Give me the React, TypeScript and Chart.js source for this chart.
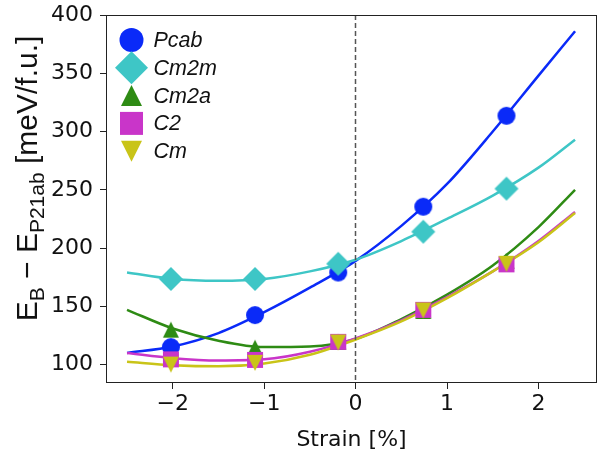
import React, { useEffect, useRef } from 'react';
import { Chart, registerables } from 'chart.js';

Chart.register(...registerables);

// ---- data ----
const seriesNames = ['Pcab', 'Cm2m', 'Cm2a', 'C2', 'Cm'];
const strain = [-2.02, -1.1, -0.19, 0.74, 1.65];
const pcab = [115, 142.5, 179, 235.5, 313.5];
const cm2m = [173.5, 173.5, 186.5, 214, 251];
const cm2a = [130, 114.5, 119.5, 146, 189];
const c2 = [104.5, 104, 119.5, 147, 186];
const cm = [100, 101.5, 119, 146.5, 186.5];

// fitted curves
const fitStrain = [-2.5, -2.0, -1.5, -1.0, -0.5, 0, 0.5, 1.0, 1.5, 2.0, 2.4];
const pcabFit = [110, 115.5, 127, 145, 166, 189, 219, 255, 300, 348, 386];
const cm2mFit = [179, 173.5, 172, 173.5, 180, 190, 206, 225, 245, 269, 293];
const cm2aFit = [147, 131, 120.5, 115, 115.5, 122, 139, 160, 185, 218, 250];
const c2Fit = [110, 105.5, 103.5, 104.5, 111, 122.5, 138, 158, 180, 206, 231];
const cmFit = [102.5, 99.5, 98.5, 101, 108.5, 121.5, 137, 157, 180, 205, 230];

const xTicks = [-2, -1, 0, 1, 2];
const yTicks = [100, 150, 200, 250, 300, 350, 400];
const refStrain = 0;

const colors = ['#0a2af8', '#3ec6c6', '#2e8b14', '#c935c9', '#c9c418'];
const shapes = ['circle', 'diamond', 'triUp', 'square', 'triDown'];
const markerSize = [9, 12, 8, 8, 8];
const legendSize = [12, 16.5, 10.5, 11.5, 10.5];

function drawShape(ctx: CanvasRenderingContext2D, shape: string, cx: number, cy: number, s: number, color: string) {
  ctx.fillStyle = color;
  ctx.beginPath();
  switch (shape) {
    case 'circle':
      ctx.arc(cx, cy, s, 0, Math.PI * 2);
      break;
    case 'diamond':
      ctx.moveTo(cx, cy - s);
      ctx.lineTo(cx + s, cy);
      ctx.lineTo(cx, cy + s);
      ctx.lineTo(cx - s, cy);
      break;
    case 'triUp':
      ctx.moveTo(cx, cy - s);
      ctx.lineTo(cx + s, cy + s);
      ctx.lineTo(cx - s, cy + s);
      break;
    case 'triDown':
      ctx.moveTo(cx, cy + s);
      ctx.lineTo(cx + s, cy - s);
      ctx.lineTo(cx - s, cy - s);
      break;
    case 'square':
      ctx.rect(cx - s, cy - s, 2 * s, 2 * s);
      break;
  }
  ctx.closePath();
  ctx.fill();
}

function makeMarker(shape: string, s: number, color: string): HTMLCanvasElement {
  const c = document.createElement('canvas');
  const size = Math.ceil(2 * s + 2);
  c.width = size;
  c.height = size;
  const ctx = c.getContext('2d')!;
  drawShape(ctx, shape, size / 2, size / 2, s, color);
  return c;
}

const decorPlugin = {
  id: 'decor',
  afterDatasetsDraw(chart: any) {
    const { ctx, chartArea: a, scales } = chart;
    const x = scales.x;
    ctx.save();
    // dashed zero-strain line
    const px = Math.round(x.getPixelForValue(refStrain)) - 0.5;
    ctx.strokeStyle = '#555';
    ctx.lineWidth = 1.5;
    ctx.setLineDash([5, 3]);
    ctx.beginPath();
    ctx.moveTo(px, a.top);
    ctx.lineTo(px, a.bottom);
    ctx.stroke();
    ctx.setLineDash([]);
    // frame
    ctx.strokeStyle = '#222';
    ctx.lineWidth = 1;
    ctx.strokeRect(a.left + 0.5, a.top + 0.5, a.right - a.left - 1, a.bottom - a.top - 1);
    // legend
    const lx = a.left + 25.5;
    const tx = a.left + 47.5;
    ctx.font = 'italic 21.5px "Liberation Sans", Arial, sans-serif';
    ctx.textBaseline = 'middle';
    ctx.textAlign = 'left';
    seriesNames.forEach((name, i) => {
      const ly = a.top + 25 + i * 27.8;
      drawShape(ctx, shapes[i], lx, ly, legendSize[i], colors[i]);
      ctx.fillStyle = '#111';
      ctx.fillText(name, tx, ly + 1);
    });
    ctx.restore();
  },
  afterDraw(chart: any) {
    const { ctx } = chart;
    const parts = [
      { t: 'E', sub: false },
      { t: 'B', sub: true },
      { t: ' \u2212 ', sub: false },
      { t: 'E', sub: false },
      { t: 'P21ab', sub: true },
      { t: ' [meV/f.u.]', sub: false },
    ];
    const mainFont = '30px "Liberation Sans", Arial, sans-serif';
    const subFont = '21px "Liberation Sans", Arial, sans-serif';
    ctx.save();
    let total = 0;
    const widths = parts.map((p) => {
      ctx.font = p.sub ? subFont : mainFont;
      const w = ctx.measureText(p.t).width;
      total += w;
      return w;
    });
    const baseX = 36.5;
    const centerY = 178.5;
    ctx.translate(baseX, centerY + total / 2);
    ctx.rotate(-Math.PI / 2);
    ctx.fillStyle = '#111';
    ctx.textBaseline = 'alphabetic';
    ctx.textAlign = 'left';
    let cx = 0;
    parts.forEach((p, i) => {
      ctx.font = p.sub ? subFont : mainFont;
      ctx.fillText(p.t, cx, p.sub ? 7 : 0);
      cx += widths[i];
    });
    ctx.restore();
  },
};

export default function App() {
  const ref = useRef<HTMLCanvasElement | null>(null);

  useEffect(() => {
    if (!ref.current) return;
    const values = [pcab, cm2m, cm2a, c2, cm];
    const fits = [pcabFit, cm2mFit, cm2aFit, c2Fit, cmFit];

    const lineSets = fits.map((f, i) => ({
      label: seriesNames[i] + ' fit',
      data: fitStrain.map((x, k) => ({ x, y: f[k] })),
      showLine: true,
      borderColor: colors[i],
      borderWidth: 2.5,
      pointRadius: 0,
      cubicInterpolationMode: 'monotone' as const,
      order: 20 - i,
    }));
    const markerSets = values.map((v, i) => ({
      label: seriesNames[i],
      data: strain.map((x, k) => ({ x, y: v[k] })),
      showLine: false,
      pointStyle: makeMarker(shapes[i], markerSize[i], colors[i]),
      pointRadius: markerSize[i],
      backgroundColor: colors[i],
      borderColor: colors[i],
      order: 10 - i,
    }));

    const tickFont = { family: '"DejaVu Sans", sans-serif', size: 22 };
    const chart = new Chart(ref.current, {
      type: 'scatter',
      data: { datasets: [...lineSets, ...markerSets] as any },
      options: {
        animation: false,
        responsive: false,
        events: [],
        layout: { autoPadding: false, padding: { top: 15, right: 1, left: 0, bottom: 0 } },
        plugins: { legend: { display: false }, tooltip: { enabled: false } },
        scales: {
          x: {
            type: 'linear',
            min: -2.73,
            max: 2.64,
            afterFit: (s: any) => {
              s.height = 69;
              s.paddingLeft = 0;
              s.paddingRight = 0;
            },
            afterBuildTicks: (s: any) => {
              s.ticks = xTicks.map((v) => ({ value: v }));
            },
            ticks: {
              font: tickFont,
              color: '#111',
              padding: 2,
              maxRotation: 0,
              callback: (v: any) => (Number(v) < 0 ? '\u2212' + Math.abs(Number(v)) : String(v)),
            },
            grid: { display: true, drawOnChartArea: false, drawTicks: true, tickLength: 6, color: '#222' },
            border: { display: false },
            title: {
              display: true,
              text: 'Strain [%]',
              font: { family: '"DejaVu Sans", sans-serif', size: 22 },
              color: '#111',
              padding: { top: 0, bottom: -1 },
            },
          },
          y: {
            type: 'linear',
            min: 84.2,
            max: 400,
            afterFit: (s: any) => {
              s.width = 106;
              s.paddingTop = 0;
              s.paddingBottom = 0;
            },
            afterBuildTicks: (s: any) => {
              s.ticks = yTicks.map((v) => ({ value: v }));
            },
            ticks: { font: tickFont, color: '#111', padding: 7 },
            grid: { display: true, drawOnChartArea: false, drawTicks: true, tickLength: 6, color: '#222' },
            border: { display: false },
          },
        },
      },
      plugins: [decorPlugin],
    });
    return () => chart.destroy();
  }, []);

  return (
    <div style={{ position: 'absolute', left: 0, top: 0, width: 598, height: 452, background: '#fff' }}>
      <canvas ref={ref} width={598} height={452} />
    </div>
  );
}
